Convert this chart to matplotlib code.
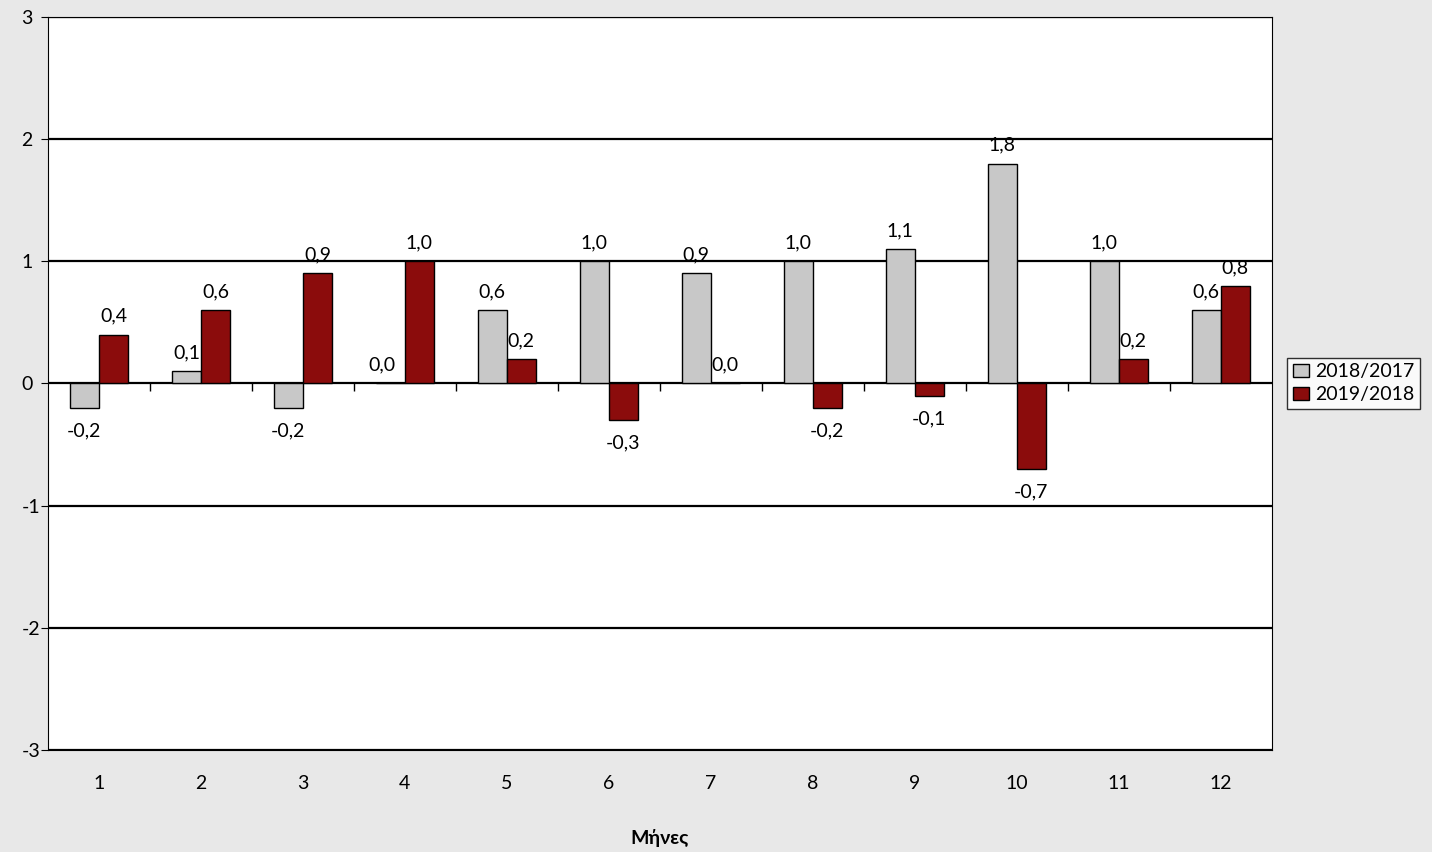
import matplotlib.pyplot as plt
import numpy as np

plt.rcParams["font.family"] = ["Lato", "DejaVu Sans"]
plt.rcParams["axes.unicode_minus"] = False

months = list(range(1, 13))
s2018 = [-0.2, 0.1, -0.2, 0.0, 0.6, 1.0, 0.9, 1.0, 1.1, 1.8, 1.0, 0.6]
s2019 = [0.4, 0.6, 0.9, 1.0, 0.2, -0.3, 0.0, -0.2, -0.1, -0.7, 0.2, 0.8]
labels = ["2018/2017", "2019/2018"]

fig = plt.figure(figsize=(14.32, 8.52), dpi=100, facecolor="#e8e8e8")
ax = fig.add_axes([0.0335, 0.12, 0.8545, 0.86])
ax.set_facecolor("white")

x = np.arange(len(months))
w = 0.285
ax.bar(x - w / 2, s2018, w, color="#c8c8c8", edgecolor="black", linewidth=1, label=labels[0], zorder=3)
ax.bar(x + w / 2, s2019, w, color="#8b0c0c", edgecolor="black", linewidth=1, label=labels[1], zorder=3)

def fmt(v):
    return f"{v:.1f}".replace(".", ",")

for xs, vals in ((x - w / 2, s2018), (x + w / 2, s2019)):
    for xi, v in zip(xs, vals):
        if v < 0:
            ax.text(xi, v - 0.12, fmt(v), ha="center", va="top", fontsize=14, zorder=4)
        else:
            ax.text(xi - (0.08 if v == 0 and xi < x[3] else 0), v + 0.08, fmt(v),
                    ha="center", va="bottom", fontsize=14, zorder=4)

ax.set_ylim(-3, 3)
ax.set_xlim(-0.5, 11.5)
ax.set_yticks(range(-3, 4))
ax.yaxis.grid(True, color="black", linewidth=1.6, zorder=1)
ax.set_xticks(x)
ax.set_xticklabels([str(m) for m in months], fontsize=14)
ax.tick_params(axis="x", length=0, pad=18)
ax.tick_params(axis="y", labelsize=14, length=5, direction="out", pad=14)
for t in ax.get_yticklabels():
    t.set_horizontalalignment("left")
ax.axhline(0, color="black", linewidth=1.2, zorder=2)
ax.vlines(np.arange(0.5, 11.5, 1), -0.06, 0, color="black", linewidth=1, zorder=2)
for sp in ax.spines.values():
    sp.set_color("black")

fig.text(0.0335 + 0.8545 / 2, 0.016, "Μήνες", ha="center", va="center",
         fontsize=14, fontweight="bold")

ax.legend(loc="center left", bbox_to_anchor=(1.005, 0.5), fontsize=14, frameon=True,
          fancybox=False, edgecolor="black", handlelength=0.8, handletextpad=0.3,
          borderpad=0.3, labelspacing=0.3)

fig.savefig("out.png", dpi=100, facecolor=fig.get_facecolor())
